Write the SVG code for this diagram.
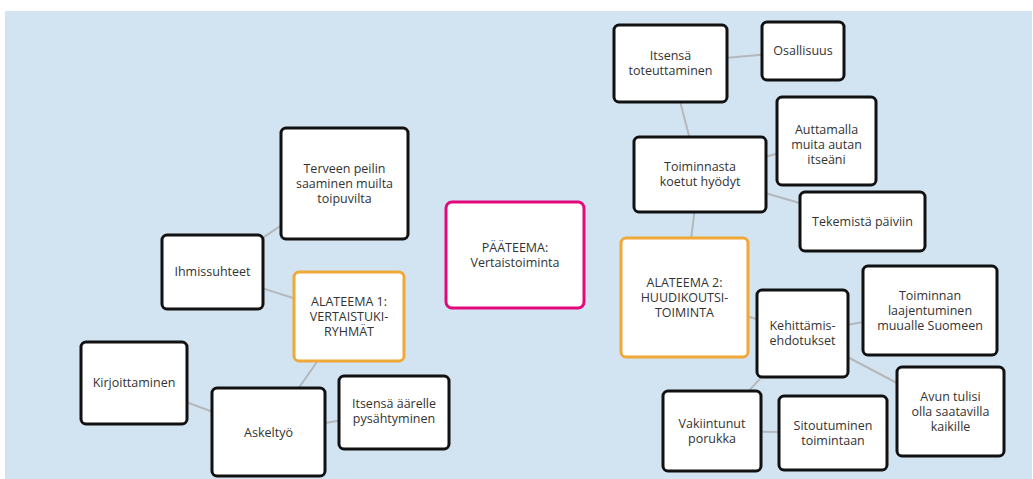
<svg xmlns="http://www.w3.org/2000/svg" width="1033" height="479" viewBox="0 0 1033 479">
<style>
.bg{fill:#d2e4f1}
.n{fill:#fff;stroke:#111;stroke-width:3}
.o{fill:#fff;stroke:#f0a838;stroke-width:3}
.p{fill:#fff;stroke:#e3087c;stroke-width:3}
.c line{stroke:#b4b8bc;stroke-width:2}
text{font-family:"Open Sans","Noto Sans","Liberation Sans",sans-serif;font-size:12.5px;fill:#333;text-anchor:middle}
</style>
<rect width="1033" height="479" fill="#fff"/>
<rect class="bg" x="5" y="11" width="1027" height="468"/>
<g class="c" id="connectors">
<line x1="670" y1="63" x2="803" y2="51"/>
<line x1="670" y1="63" x2="699" y2="174"/>
<line x1="699" y1="174" x2="826" y2="141"/>
<line x1="699" y1="174" x2="862" y2="221"/>
<line x1="699" y1="174" x2="684" y2="297"/>
<line x1="684" y1="297" x2="802" y2="333"/>
<line x1="802" y1="333" x2="930" y2="310"/>
<line x1="802" y1="333" x2="950" y2="411"/>
<line x1="802" y1="333" x2="712" y2="431"/>
<line x1="712" y1="431" x2="833" y2="433"/>
<line x1="344" y1="183" x2="212" y2="272"/>
<line x1="212" y1="272" x2="349" y2="316"/>
<line x1="349" y1="316" x2="268" y2="432"/>
<line x1="268" y1="432" x2="134" y2="383"/>
<line x1="268" y1="432" x2="394" y2="412"/>
</g>
<g id="n-itsensa-toteuttaminen"><rect class="n" x="614" y="25" width="113" height="77" rx="5"/><text x="670.5" y="60">Itsensä</text><text x="670.5" y="75">toteuttaminen</text></g>
<g id="n-osallisuus"><rect class="n" x="762" y="22" width="82" height="58" rx="5"/><text x="803" y="55">Osallisuus</text></g>
<g id="n-auttamalla"><rect class="n" x="777" y="97" width="99" height="88" rx="5"/><text x="826.5" y="134">Auttamalla</text><text x="826.5" y="149">muita autan</text><text x="826.5" y="164">itseäni</text></g>
<g id="n-toiminnasta"><rect class="n" x="634" y="137" width="132" height="75" rx="5"/><text x="700" y="171">Toiminnasta</text><text x="700" y="186">koetut hyödyt</text></g>
<g id="n-tekemista"><rect class="n" x="800" y="192" width="125" height="59" rx="5"/><text x="862.5" y="226">Tekemistä päiviin</text></g>
<g id="n-alateema2"><rect class="o" x="621" y="238" width="127" height="119" rx="5"/><text x="684.5" y="287">ALATEEMA 2:</text><text x="684.5" y="302">HUUDIKOUTSI-</text><text x="684.5" y="317">TOIMINTA</text></g>
<g id="n-kehittamis"><rect class="n" x="757" y="290" width="91" height="87" rx="5"/><text x="802.5" y="330">Kehittämis-</text><text x="802.5" y="345">ehdotukset</text></g>
<g id="n-toiminnan"><rect class="n" x="863" y="266" width="134" height="89" rx="5"/><text x="930" y="300">Toiminnan</text><text x="930" y="315">laajentuminen</text><text x="930" y="330">muualle Suomeen</text></g>
<g id="n-avun"><rect class="n" x="897" y="367" width="107" height="89" rx="5"/><text x="950.5" y="401">Avun tulisi</text><text x="950.5" y="416">olla saatavilla</text><text x="950.5" y="431">kaikille</text></g>
<g id="n-vakiintunut"><rect class="n" x="663" y="391" width="98" height="80" rx="5"/><text x="712" y="428">Vakiintunut</text><text x="712" y="443">porukka</text></g>
<g id="n-sitoutuminen"><rect class="n" x="779" y="396" width="108" height="74" rx="5"/><text x="833" y="430">Sitoutuminen</text><text x="833" y="445">toimintaan</text></g>
<g id="n-terveen"><rect class="n" x="281" y="128" width="127" height="111" rx="5"/><text x="344.5" y="173">Terveen peilin</text><text x="344.5" y="188">saaminen muilta</text><text x="344.5" y="203">toipuvilta</text></g>
<g id="n-ihmissuhteet"><rect class="n" x="162" y="235" width="101" height="74" rx="5"/><text x="212.5" y="276">Ihmissuhteet</text></g>
<g id="n-alateema1"><rect class="o" x="294" y="272" width="110" height="89" rx="5"/><text x="349" y="306">ALATEEMA 1:</text><text x="349" y="321">VERTAISTUKI-</text><text x="349" y="336">RYHMÄT</text></g>
<g id="n-paateema"><rect class="p" x="446" y="202" width="138" height="106" rx="6"/><text x="515" y="252">PÄÄTEEMA:</text><text x="515" y="267">Vertaistoiminta</text></g>
<g id="n-kirjoittaminen"><rect class="n" x="81" y="342" width="106" height="82" rx="5"/><text x="134" y="387">Kirjoittaminen</text></g>
<g id="n-askeltyo"><rect class="n" x="212" y="388" width="113" height="88" rx="5"/><text x="268.5" y="437">Askeltyö</text></g>
<g id="n-itsensa-aarelle"><rect class="n" x="339" y="376" width="110" height="73" rx="5"/><text x="394" y="408">Itsensä äärelle</text><text x="394" y="423">pysähtyminen</text></g>
</svg>
